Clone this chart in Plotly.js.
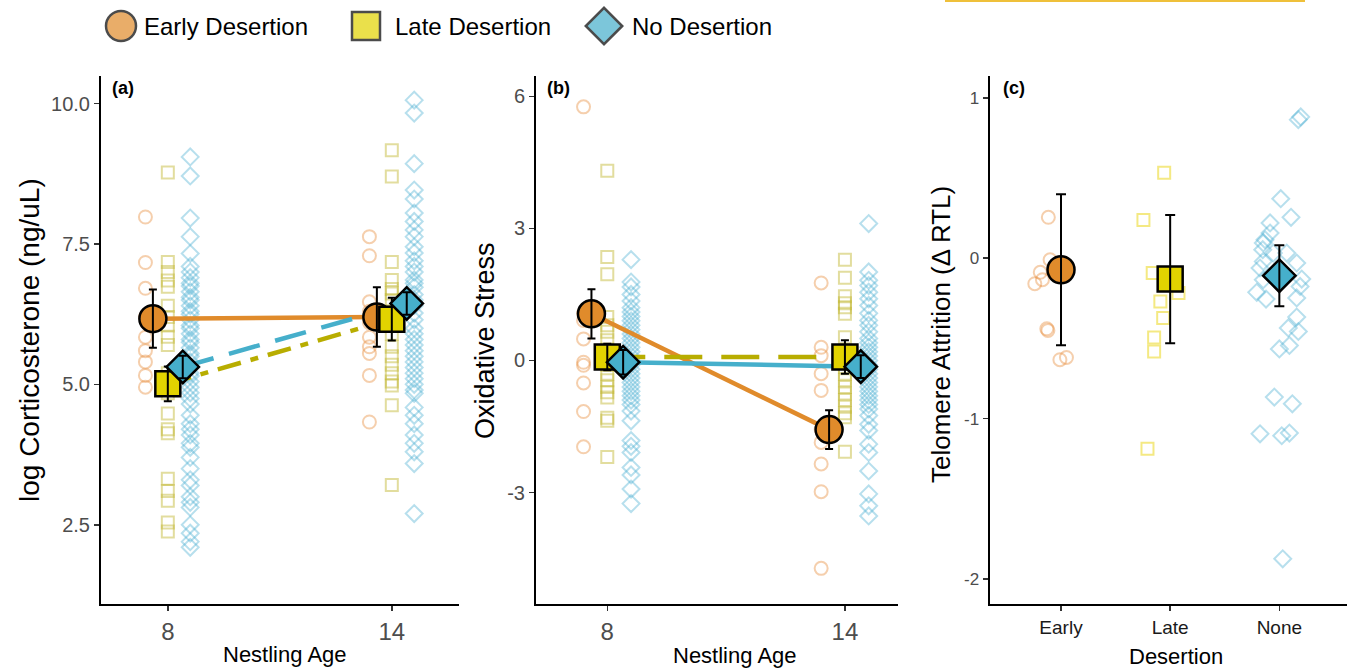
<!DOCTYPE html>
<html>
<head>
<meta charset="utf-8">
<script src="https://cdn.plot.ly/plotly-3.0.1.min.js"></script>
<style>html,body{margin:0;padding:0;background:#fff;}#chart{width:1351px;height:669px;}</style>
</head>
<body>
<div id="chart"></div>
<script>
// ---------------- DATA ----------------
const ages = [8, 14];
const groupNames = ['Early Desertion', 'Late Desertion', 'No Desertion'];
const desertionCats = ['Early', 'Late', 'None'];

// Panel (a): log Corticosterone, raw values per group and age
const cortEarly8 = [7.98, 7.17, 6.71, 6.2, 5.84, 5.6, 5.40, 5.16, 4.95];
const cortLate8 = [8.77, 7.18, 7.0, 6.85, 6.74, 6.4, 6.2, 6.05, 5.85, 5.7, 5.2, 5.0, 4.84, 4.48, 4.2, 4.13, 3.32, 3.1, 2.93, 2.54, 2.38];
const cortNone8 = [9.05, 8.71, 7.96, 7.63, 7.33, 7.1, 7.0, 6.9, 6.8, 6.75, 6.65, 6.55, 6.5, 6.4, 6.3, 6.25, 6.15, 6.05, 6.0, 5.9, 5.8, 5.75, 5.65, 5.55, 5.5, 5.4, 5.3, 5.2, 5.15, 5.05, 4.95, 4.85, 4.75, 4.65, 4.45, 4.3, 4.2, 4.1, 3.95, 3.88, 3.7, 3.5, 3.3, 3.2, 3.0, 2.9, 2.81, 2.5, 2.35, 2.2, 2.1];
const cortEarly14 = [7.63, 7.29, 6.47, 6.3, 6.1, 5.84, 5.67, 5.55, 5.16, 4.33];
const cortLate14 = [9.17, 8.70, 7.18, 6.86, 6.7, 6.62, 6.5, 6.3, 6.1, 5.9, 5.67, 5.5, 5.35, 5.2, 5.05, 4.98, 4.63, 3.21];
const cortNone14 = [10.06, 9.83, 8.93, 8.46, 8.3, 8.05, 7.9, 7.75, 7.63, 7.45, 7.34, 7.2, 7.1, 7.0, 6.86, 6.8, 6.73, 6.6, 6.5, 6.4, 6.27, 6.15, 6.0, 5.9, 5.8, 5.7, 5.6, 5.5, 5.4, 5.3, 5.2, 5.1, 5.0, 4.9, 4.84, 4.59, 4.45, 4.3, 4.1, 3.95, 3.8, 3.59, 2.70];
// Panel (a) means and errors [age 8, age 14]
const cortMeanEarly = [6.17, 6.20];
const cortErrEarly = [0.52, 0.53];
const cortMeanLate = [5.01, 6.16];
const cortErrLate = [0.31, 0.38];
const cortMeanNone = [5.31, 6.44];
const cortErrNone = [0.20, 0.20];

// Panel (b): Oxidative Stress
const oxEarly8 = [5.76, 1.07, 0.91, 0.49, -0.04, -0.11, -0.51, -1.16, -1.96];
const oxLate8 = [4.31, 2.35, 1.96, 0.99, 0.8, 0.65, 0.46, 0.25, 0.08, -0.1, -0.3, -0.45, -0.6, -0.72, -0.84, -1.3, -1.37, -2.19];
const oxNone8 = [2.29, 1.78, 1.67, 1.5, 1.35, 1.2, 1.1, 1.0, 0.9, 0.8, 0.7, 0.6, 0.5, 0.4, 0.3, 0.2, 0.1, 0.0, -0.1, -0.2, -0.3, -0.4, -0.5, -0.6, -0.7, -0.8, -0.9, -1.0, -1.15, -1.37, -1.82, -1.95, -2.09, -2.43, -2.6, -2.92, -3.25];
const oxEarly14 = [1.76, 0.30, 0.11, -0.30, -0.68, -1.57, -1.86, -2.35, -2.98, -4.72];
const oxLate14 = [2.29, 1.88, 1.46, 1.3, 1.21, 1.06, 0.53, 0.2, 0.08, -0.15, -0.3, -0.45, -0.6, -0.75, -0.9, -1.05, -1.2, -1.29, -2.07];
const oxNone14 = [3.11, 2.01, 1.82, 1.7, 1.55, 1.4, 1.25, 1.07, 0.91, 0.8, 0.65, 0.5, 0.4, 0.3, 0.2, 0.1, 0.0, -0.1, -0.2, -0.3, -0.4, -0.5, -0.6, -0.7, -0.8, -0.9, -1.0, -1.1, -1.25, -1.45, -1.59, -1.9, -2.09, -2.51, -3.03, -3.30, -3.53];
const oxMeanEarly = [1.06, -1.57];
const oxErrEarly = [0.56, 0.44];
const oxMeanLate = [0.08, 0.08];
const oxErrLate = [0.30, 0.38];
const oxMeanNone = [-0.04, -0.14];
const oxErrNone = [0.28, 0.26];

// Panel (c): Telomere attrition (Δ RTL), raw values with horizontal jitter
const telEarly = [0.255, -0.01, -0.088, -0.159, -0.134, -0.45, -0.44, -0.633, -0.619];
const telEarlyJit = [-0.116, -0.10, -0.19, -0.24, -0.17, -0.12, -0.13, -0.01, 0.05];
const telLate = [0.533, 0.238, -0.093, -0.217, -0.27, -0.373, -0.494, -0.581, -1.188];
const telLateJit = [-0.055, -0.245, -0.16, 0.076, -0.09, -0.064, -0.147, -0.147, -0.208];
const telNone = [0.881, 0.864, 0.371, 0.22, 0.255, 0.157, 0.115, 0.095, 0.053, 0.032, 0.032, -0.02, -0.061, -0.03, -0.13, -0.134, -0.213, -0.176, -0.255, -0.248, -0.367, -0.435, -0.457, -0.566, -0.544, -0.866, -0.908, -1.095, -1.107, -1.09, -1.874];
const telNoneJit = [0.196, 0.174, 0.013, -0.085, 0.107, -0.085, -0.131, -0.147, -0.152, -0.055, 0.068, -0.147, -0.177, 0.159, 0.205, -0.147, -0.207, 0.19, -0.122, 0.159, 0.159, 0.082, 0.174, 0.0, 0.092, -0.046, 0.119, -0.177, 0.022, 0.092, 0.031];
const telMeans = [-0.072, -0.13, -0.109];
const telErrs = [0.47, 0.40, 0.19];

// ---------------- STYLE ----------------
const FONT = 'Liberation Sans, Arial, Helvetica, sans-serif';
const C = {
  orange: '#E08B2B', yellow: '#E2D300', blue: '#46AFCB', olive: '#B8AD00',
  rawOrange: 'rgba(232,140,60,0.42)', rawOlive: 'rgba(190,180,40,0.45)', rawBlue: 'rgba(75,175,210,0.4)',
  rawYellow: 'rgba(235,215,30,0.55)'
};
const RAW_OFF = 0.6, MEAN_OFF = 0.4;
const symbols = ['circle', 'square', 'diamond'];
const rawSymbols = ['circle-open', 'square-open', 'diamond-open'];
const rawSizes = [13, 12, 13];
const meanSizes = [27, 25, 25];
const fills = [C.orange, C.yellow, C.blue];

const traces = [];

function rawTrace(vals, xpos, sym, size, color, xa, ya) {
  return {
    type: 'scatter', mode: 'markers', x: vals.map(() => xpos), y: vals,
    xaxis: xa, yaxis: ya, showlegend: false, hoverinfo: 'y', cliponaxis: false,
    marker: { symbol: sym, size: size, color: color, line: { color: color, width: 2 } }
  };
}

function agePanel(xa, ya, rawSets, means, errs, lineStyles, rawColors) {
  const offs = [-1, 0, 1];
  for (let g = 0; g < 3; g++) {
    ages.forEach((age, ai) => {
      traces.push(rawTrace(rawSets[g][ai], age + offs[g] * RAW_OFF, rawSymbols[g], rawSizes[g], rawColors[g], xa, ya));
    });
  }
  for (let g = 0; g < 3; g++) {
    traces.push({
      type: 'scatter', mode: 'lines', x: ages.map(a => a + offs[g] * MEAN_OFF), y: means[g],
      xaxis: xa, yaxis: ya, showlegend: false, hoverinfo: 'skip',
      line: { color: lineStyles[g].color, width: 4.5, dash: lineStyles[g].dash }
    });
  }
  for (let g = 0; g < 3; g++) {
    const xs = ages.map(a => a + offs[g] * MEAN_OFF);
    traces.push({
      type: 'scatter', mode: 'markers', x: xs, y: means[g], xaxis: xa, yaxis: ya,
      name: groupNames[g], showlegend: false, cliponaxis: false,
      marker: { symbol: symbols[g], size: meanSizes[g], color: fills[g], line: { color: '#000', width: 2.5 } }
    });
    traces.push({
      type: 'scatter', mode: 'markers', x: xs, y: means[g], xaxis: xa, yaxis: ya,
      showlegend: false, hoverinfo: 'skip', cliponaxis: false,
      marker: { size: 1, color: 'rgba(0,0,0,0)' },
      error_y: { type: 'data', array: errs[g], color: '#000', thickness: 2, width: 4 }
    });
  }
}

agePanel('x', 'y',
  [[cortEarly8, cortEarly14], [cortLate8, cortLate14], [cortNone8, cortNone14]],
  [cortMeanEarly, cortMeanLate, cortMeanNone],
  [cortErrEarly, cortErrLate, cortErrNone],
  [{ color: C.orange, dash: 'solid' }, { color: C.olive, dash: '24px,10px,8px,10px' }, { color: C.blue, dash: '32px,16px' }],
  [C.rawOrange, C.rawOlive, C.rawBlue]);

agePanel('x2', 'y2',
  [[oxEarly8, oxEarly14], [oxLate8, oxLate14], [oxNone8, oxNone14]],
  [oxMeanEarly, oxMeanLate, oxMeanNone],
  [oxErrEarly, oxErrLate, oxErrNone],
  [{ color: C.orange, dash: 'solid' }, { color: C.olive, dash: '38px,19px' }, { color: C.blue, dash: 'solid' }],
  [C.rawOrange, C.rawOlive, C.rawBlue]);

// Panel (c)
const telRaw = [telEarly, telLate, telNone];
const telJit = [telEarlyJit, telLateJit, telNoneJit];
const telRawColors = [C.rawOrange, C.rawYellow, C.rawBlue];
for (let g = 0; g < 3; g++) {
  traces.push({
    type: 'scatter', mode: 'markers', x: telJit[g].map(j => (g + 1) + j), y: telRaw[g],
    xaxis: 'x3', yaxis: 'y3', showlegend: false, cliponaxis: false,
    marker: { symbol: rawSymbols[g], size: rawSizes[g], color: telRawColors[g], line: { color: telRawColors[g], width: 2 } }
  });
}
for (let g = 0; g < 3; g++) {
  traces.push({
    type: 'scatter', mode: 'markers', x: [g + 1], y: [telMeans[g]], xaxis: 'x3', yaxis: 'y3',
    name: groupNames[g], showlegend: false, cliponaxis: false,
    marker: { symbol: symbols[g], size: meanSizes[g], color: fills[g], line: { color: '#000', width: 2.5 } }
  });
  traces.push({
    type: 'scatter', mode: 'markers', x: [g + 1], y: [telMeans[g]], xaxis: 'x3', yaxis: 'y3',
    showlegend: false, hoverinfo: 'skip', cliponaxis: false,
    marker: { size: 1, color: 'rgba(0,0,0,0)' },
    error_y: { type: 'data', array: [telErrs[g]], color: '#000', thickness: 2, width: 5 }
  });
}

// custom legend markers (separate full-page axis in pixel units)
const W = 1351, H = 669;
const legendMarkX = [121, 366, 604];
const legendTextX = [142, 393, 630];
const legendY = 26;
traces.push({
  type: 'scatter', mode: 'markers', x: legendMarkX, y: legendMarkX.map(() => legendY),
  xaxis: 'x4', yaxis: 'y4', showlegend: false, hoverinfo: 'text', text: groupNames, cliponaxis: false,
  marker: { symbol: symbols, size: [30, 28, 28], color: fills, line: { color: '#000', width: 2.5 } }
});

// ---------------- LAYOUT ----------------
const yDom = [1 - 604 / H, 1 - 76 / H];
const baseAxis = {
  showline: true, linecolor: '#000', linewidth: 2, mirror: false,
  showgrid: false, zeroline: false, ticks: 'outside', ticklen: 5, tickwidth: 1.5, tickcolor: '#333',
  fixedrange: true, automargin: false
};
const tickFontGray = (s) => ({ family: FONT, size: s, color: '#4d4d4d' });

const layout = {
  width: W, height: H, margin: { l: 0, r: 0, t: 0, b: 0, pad: 0 },
  paper_bgcolor: '#fff', plot_bgcolor: 'rgba(0,0,0,0)', showlegend: false,
  font: { family: FONT, color: '#000' },
  xaxis: Object.assign({}, baseAxis, { domain: [101 / W, 459 / W], anchor: 'y', range: [6.21, 15.8],
    tickvals: ages, ticktext: ages.map(String), tickfont: tickFontGray(24) }),
  yaxis: Object.assign({}, baseAxis, { domain: yDom, anchor: 'x', range: [1.09, 10.49],
    tickvals: [2.5, 5, 7.5, 10], ticktext: ['2.5', '5.0', '7.5', '10.0'], tickfont: tickFontGray(20) }),
  xaxis2: Object.assign({}, baseAxis, { domain: [536 / W, 898 / W], anchor: 'y2', range: [6.2, 15.34],
    tickvals: ages, ticktext: ages.map(String), tickfont: tickFontGray(24) }),
  yaxis2: Object.assign({}, baseAxis, { domain: yDom, anchor: 'x2', range: [-5.53, 6.46],
    tickvals: [-3, 0, 3, 6], ticktext: ['-3', '0', '3', '6'], tickfont: tickFontGray(20) }),
  xaxis3: Object.assign({}, baseAxis, { domain: [989.5 / W, 1346.7 / W], anchor: 'y3', range: [0.345, 3.617],
    tickvals: [1, 2, 3], ticktext: desertionCats, tickfont: { family: FONT, size: 19, color: '#1a1a1a' } }),
  yaxis3: Object.assign({}, baseAxis, { domain: yDom, anchor: 'x3', range: [-2.156, 1.136],
    tickvals: [-2, -1, 0, 1], ticktext: ['-2', '-1', '0', '1'], tickfont: tickFontGray(17) }),
  xaxis4: { domain: [0, 1], range: [0, W], visible: false, fixedrange: true, anchor: 'y4' },
  yaxis4: { domain: [0, 1], range: [H, 0], visible: false, fixedrange: true, anchor: 'x4' },
  shapes: [
    { type: 'line', xref: 'paper', yref: 'paper', x0: 945 / W, x1: 1305 / W, y0: 1 - 1 / H, y1: 1 - 1 / H,
      line: { color: '#EFC03A', width: 2 } }
  ],
  annotations: []
};

const A = layout.annotations;
groupNames.forEach((n, i) => A.push({ xref: 'paper', yref: 'paper', x: legendTextX[i] / W, y: 1 - legendY / H,
  xanchor: 'left', yanchor: 'middle', text: n, showarrow: false, font: { family: FONT, size: 24, color: '#000' } }));
[['(a)', 110], ['(b)', 545], ['(c)', 1001]].forEach(([t, px]) => A.push({ xref: 'paper', yref: 'paper',
  x: px / W, y: 1 - 88 / H, xanchor: 'left', yanchor: 'middle', text: '<b>' + t + '</b>', showarrow: false,
  font: { family: FONT, size: 18, color: '#000' } }));
const yTitles = [['log Corticosterone (ng/uL)', 29, 340, 28], ['Oxidative Stress', 485, 341, 27], ['Telomere Attrition (Δ RTL)', 941, 335, 26]];
yTitles.forEach(([t, px, py, s]) => A.push({ xref: 'paper', yref: 'paper', x: px / W, y: 1 - py / H,
  xanchor: 'center', yanchor: 'middle', textangle: -90, text: t, showarrow: false, font: { family: FONT, size: s, color: '#000' } }));
const xTitles = [['Nestling Age', 285, 654, 22], ['Nestling Age', 735, 655, 22], ['Desertion', 1176, 656, 22]];
xTitles.forEach(([t, px, py, s]) => A.push({ xref: 'paper', yref: 'paper', x: px / W, y: 1 - py / H,
  xanchor: 'center', yanchor: 'middle', text: t, showarrow: false, font: { family: FONT, size: s, color: '#000' } }));

Plotly.newPlot('chart', traces, layout, { staticPlot: true, displayModeBar: false });
</script>
</body>
</html>
